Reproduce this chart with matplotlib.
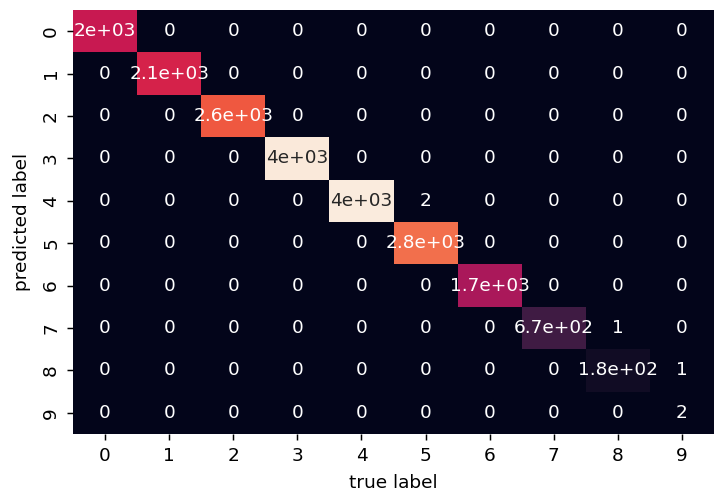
import numpy as np
import matplotlib
matplotlib.use("Agg")
import matplotlib.pyplot as plt
import seaborn as sns

# class labels 0..9
labels = [str(i) for i in range(10)]

# diagonal counts (correct predictions)
diag_counts = [1980, 2130, 2610, 3990, 4020, 2810, 1690, 670, 180, 2]

# off-diagonal counts: (predicted row, true column, count)
off_diag = [(4, 5, 2), (7, 8, 1), (8, 9, 1)]

mat = np.diag(diag_counts)
for r, c, v in off_diag:
    mat[r, c] = v

# reference is drawn at a higher dpi, so everything scales up together
dpi = 133
fig = plt.figure(figsize=(715 / dpi, 492 / dpi), dpi=dpi)
ax = fig.add_axes([73 / 715, 1 - 434 / 492, 641 / 715, 424 / 492])
sns.heatmap(mat, annot=True, cbar=False, square=False,
            xticklabels=labels, yticklabels=labels, ax=ax)
ax.set_xlabel('true label', labelpad=5)
ax.set_ylabel('predicted label', labelpad=6)

fig.savefig('out.png', dpi=dpi)
